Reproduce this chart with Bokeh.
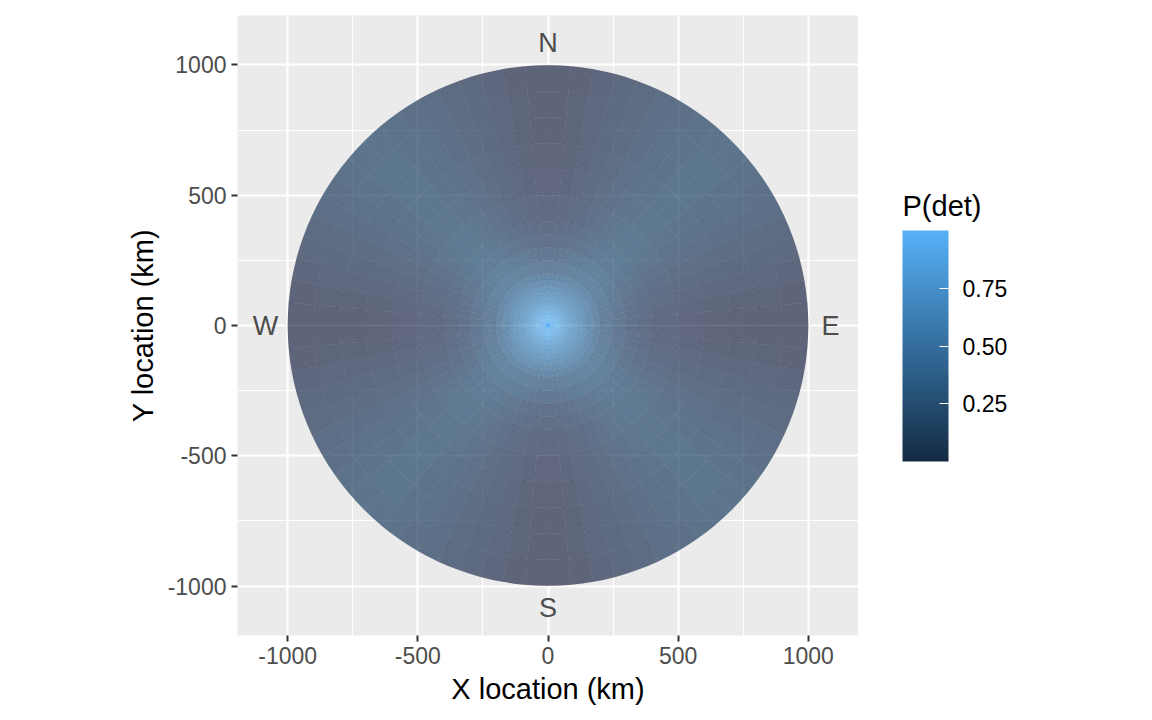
import math
from bokeh.plotting import figure
from bokeh.layouts import row
from bokeh.models import ColumnDataSource, LinearColorMapper, ColorBar, FixedTicker, PrintfTickFormatter
from bokeh.core.properties import value
from bokeh.embed import file_html
from bokeh.resources import INLINE

# ring edges (km) and P(det) for each ring
ring_edges = [0, 10, 20, 30, 40, 50, 60, 75, 90, 110, 130, 150, 175, 200,
              250, 300, 350, 400, 500, 600, 700, 800, 900, 1000]
ring_pdet = [1.00, 0.98, 0.96, 0.93, 0.89, 0.85, 0.80, 0.74, 0.67, 0.61, 0.55,
             0.49, 0.43, 0.37, 0.32, 0.28, 0.26, 0.24, 0.22, 0.21, 0.20, 0.20, 0.19]
# how much of the reddish underlay shows in each ring (none near the centre)
ring_underlay = [0, 0, 0, 0, 0, 0, 0, 0, 0, 0, 0, 0.1, 0.2, 0.35, 0.5, 0.65,
                 0.8, 0.9, 1, 1, 1, 1, 1]

# bearing sectors (deg) and the reddish underlay seen near N/E/S/W,
# given by distance from the nearest cardinal direction (0, 5, ... 45 deg)
sector_width = 5
underlay_by_offset = [0.50, 0.48, 0.43, 0.36, 0.28, 0.20, 0.13, 0.07, 0.03, 0.0]

compass = ["N", "E", "S", "W"]
compass_bearing = [0, 90, 180, 270]
label_dist = 1085

axis_ticks = [-1000, -500, 0, 500, 1000]
axis_minor = [-750, -250, 250, 750]
pdet_ticks = [0.25, 0.50, 0.75]

FONT = "Liberation Sans"


def bearing_to_angle(b):
    # compass bearing (clockwise from north) -> math angle in radians
    return math.radians(90 - b)


# ggplot default gradient #132B43 -> #56B1F7
lo, hi = (19, 43, 67), (86, 177, 247)
palette = []
for i in range(256):
    t = i / 255
    palette.append("#%02x%02x%02x" % tuple(round(lo[k] + (hi[k] - lo[k]) * t) for k in range(3)))
mapper = LinearColorMapper(palette=palette, low=0.0, high=1.0)

cells = dict(inner=[], outer=[], start=[], end=[], pdet=[], tint=[])
for b0 in range(0, 360, sector_width):
    a_start = bearing_to_angle(b0 + sector_width)
    a_end = bearing_to_angle(b0)
    mid = b0 + sector_width / 2
    off = abs(((mid + 45) % 90) - 45)
    u = underlay_by_offset[int(off // 5)]
    for j, pv in enumerate(ring_pdet):
        cells["inner"].append(ring_edges[j])
        cells["outer"].append(ring_edges[j + 1])
        cells["start"].append(a_start)
        cells["end"].append(a_end)
        cells["pdet"].append(pv)
        cells["tint"].append(u * ring_underlay[j])
src = ColumnDataSource(cells)

p = figure(frame_width=621, frame_height=620,
           x_range=(-1193, 1193), y_range=(-1190, 1190),
           output_backend="svg", toolbar_location=None,
           min_border_left=237, min_border_top=15, min_border_bottom=70,
           min_border_right=0,
           x_axis_label="X location (km)", y_axis_label="Y location (km)")
p.background_fill_color = "#EBEBEB"
p.outline_line_color = None

for ax in (p.xaxis, p.yaxis):
    ax.ticker = FixedTicker(ticks=axis_ticks, minor_ticks=axis_minor)
    # plain hyphen like the original, not a unicode minus
    ax.major_label_overrides = {t: str(t) for t in axis_ticks}
    ax.axis_line_color = None
    ax.major_tick_line_color = "#333333"
    ax.major_tick_line_width = 2
    ax.major_tick_in = 0
    ax.major_tick_out = 6
    ax.minor_tick_line_color = None
    ax.major_label_text_color = "#4D4D4D"
    ax.major_label_text_font = FONT
    ax.major_label_text_font_size = "23px"
    ax.major_label_standoff = 5
    ax.axis_label_text_font = FONT
    ax.axis_label_text_font_size = "29px"
    ax.axis_label_text_font_style = "normal"
    ax.axis_label_text_color = "black"
    ax.axis_label_standoff = 6

for g in (p.xgrid, p.ygrid):
    g.grid_line_color = "white"
    g.grid_line_width = 2.2
    g.minor_grid_line_color = "white"
    g.minor_grid_line_width = 1.1

p.annular_wedge(x=0, y=0, inner_radius="inner", outer_radius="outer",
                start_angle="start", end_angle="end",
                fill_color="#F8766D", fill_alpha="tint", line_color=None, source=src)
p.annular_wedge(x=0, y=0, inner_radius="inner", outer_radius="outer",
                start_angle="start", end_angle="end",
                fill_color={"field": "pdet", "transform": mapper}, fill_alpha=0.7,
                line_color={"field": "pdet", "transform": mapper}, line_alpha=0.12,
                line_width=0.5, source=src)

p.text(x=[label_dist * math.sin(math.radians(b)) for b in compass_bearing],
       y=[label_dist * math.cos(math.radians(b)) for b in compass_bearing],
       text=compass, text_align="center", text_baseline="middle",
       text_font=value(FONT), text_font_size="27px", text_color="#4D4D4D")

# legend panel to the right of the plot; its frame lines up with the plot's
# frame, so y here counts pixels up from the frame bottom
q = figure(frame_width=180, frame_height=620, x_range=(0, 180), y_range=(0, 620),
           output_backend="svg", toolbar_location=None,
           min_border_left=0, min_border_right=0, min_border_top=15, min_border_bottom=70,
           x_axis_location=None, y_axis_location=None)
q.grid.visible = False
q.outline_line_color = None
q.text(x=[44], y=[430], text=["P(det)"], text_align="left",
       text_baseline="alphabetic", text_font=value(FONT), text_font_size="29px",
       text_color="black")
cb = ColorBar(color_mapper=mapper, width=46, height=231,
              ticker=FixedTicker(ticks=pdet_ticks),
              formatter=PrintfTickFormatter(format="%.2f"),
              major_label_text_font=FONT, major_label_text_font_size="23px",
              major_label_text_color="black", label_standoff=14,
              major_tick_line_color="white", major_tick_in=9, major_tick_out=0,
              minor_tick_line_color=None, bar_line_color=None,
              background_fill_alpha=0, border_line_color=None,
              margin=0, padding=0, location=(44, 174))
q.add_layout(cb)

open("out.html", "w").write(file_html(row(p, q), INLINE))
